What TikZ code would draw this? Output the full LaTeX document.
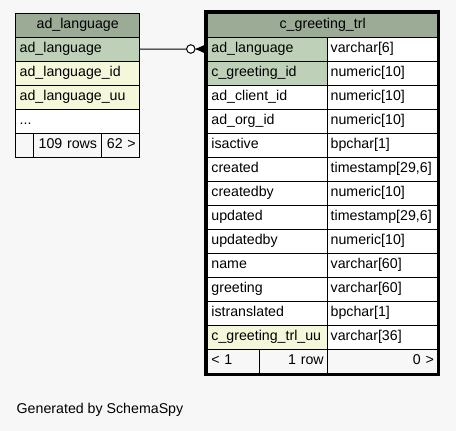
\documentclass[tikz,border=0pt]{standalone}
\usepackage{fontspec}
\setmainfont{Liberation Sans}
\usetikzlibrary{calc}
\definecolor{bgc}{HTML}{F7F7F7}
\definecolor{hdr}{HTML}{9BAB96}
\definecolor{pkc}{HTML}{BED1B8}
\definecolor{idx}{HTML}{F4F7DA}
\tikzset{
  cell/.style={draw=black, line width=0.8pt, anchor=north west, inner xsep=4pt, inner ysep=0pt,
    minimum height=24pt, text height=10.3pt, text depth=3pt, fill=white},
  lcell/.style={cell, align=left},
  rcell/.style={cell, align=right},
  ccell/.style={cell, align=center, fill=hdr},
}
\begin{document}
\begin{tikzpicture}[x=1pt,y=-1pt,font=\fontsize{14.2}{16}\selectfont]
\fill[bgc] (0,0) rectangle (456,431);
\useasboundingbox (0,0) rectangle (456,431);
% left table
\node[ccell, text width=116pt] (lh) at (15.3,12.7) {ad\_language};
\node[lcell, text width=116pt, fill=pkc] (l1) at (15.3,36.7) {ad\_language};
\node[lcell, text width=116pt, fill=idx] (l2) at (15.3,60.7) {ad\_language\_id};
\node[lcell, text width=116pt, fill=idx] (l3) at (15.3,84.7) {ad\_language\_uu};
\node[lcell, text width=116pt] (l4) at (15.3,108.7) {...};
\node[lcell, text width=10pt, fill=bgc] (lf1) at (15.3,132.7) {};
\node[rcell, text width=59.4pt, fill=bgc] (lf2) at (33.3,132.7) {109 rows};
\node[rcell, text width=30.6pt, fill=bgc] (lf3) at (100.7,132.7) {62 >};
% right table
\node[ccell, text width=222.5pt] (rh) at (207,12.7) {c\_greeting\_trl};
\foreach \n/\t/\f [count=\i] in {
  ad\_language/varchar[6]/pkc,
  c\_greeting\_id/numeric[10]/pkc,
  ad\_client\_id/numeric[10]/white,
  ad\_org\_id/numeric[10]/white,
  isactive/bpchar[1]/white,
  created/timestamp[29{,}6]/white,
  createdby/numeric[10]/white,
  updated/timestamp[29{,}6]/white,
  updatedby/numeric[10]/white,
  name/varchar[60]/white,
  greeting/varchar[60]/white,
  istranslated/bpchar[1]/white,
  c\_greeting\_trl\_uu/varchar[36]/idx}{
  \node[lcell, text width=112.3pt, fill=\f] (rn\i) at (207,12.7+24*\i) {\n};
  \node[lcell, inner xsep=3pt, text width=104.2pt] (rt\i) at (327.3,12.7+24*\i) {\t};
}
\node[lcell, text width=44pt, fill=bgc] (rf1) at (207,348.7) {< 1};
\node[rcell, text width=60.3pt, fill=bgc] (rf2) at (259,348.7) {1 row};
\node[rcell, text width=102.2pt, fill=bgc] (rf3) at (327.3,348.7) {0 >};
\draw[line width=3pt] (205.6,11.3) rectangle (438.9,374.1);
% connector
\node[draw, circle, fill=white, line width=1pt, minimum size=8.5pt, inner sep=0pt] (oc) at (190.8,49) {};
\coordinate (cf) at (195.5,49);
\draw[line width=1pt] (l1.east) -- (oc.west);
\fill[line join=round] (cf) -- ($(rn1.west)+(-0.5,-5)$) -- ($(rn1.west)+(-0.5,5)$) -- cycle;
\draw[line width=1pt] (oc.east) -- (rn1.west);
% footer text
\node[anchor=west, inner sep=0pt] (gen) at (16.5,410) {Generated by SchemaSpy};
\end{tikzpicture}
\end{document}
